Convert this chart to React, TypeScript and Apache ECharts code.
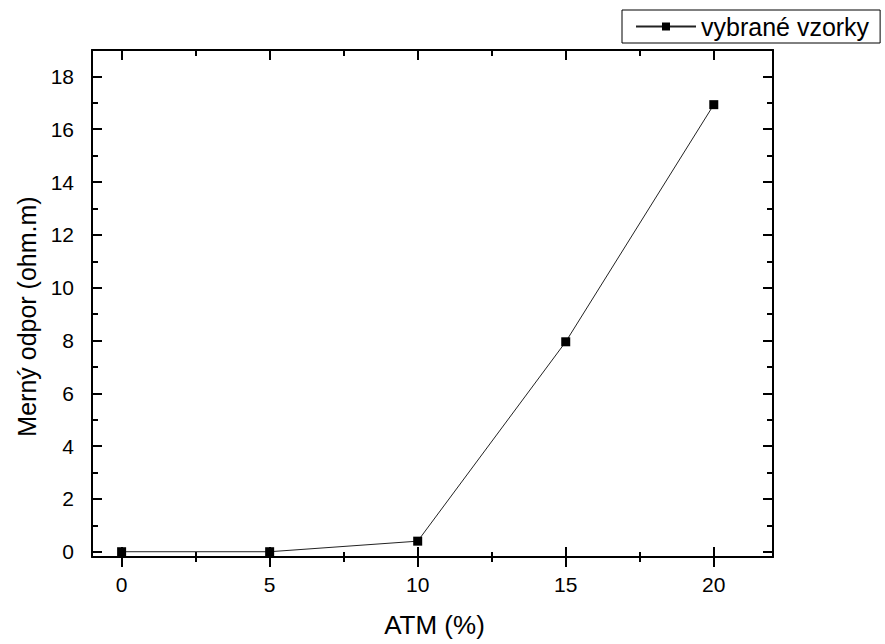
import React, { useEffect, useRef } from "react";
import * as echarts from "echarts";

const categories = [0, 5, 10, 15, 20];
const seriesValues = [0, 0, 0.4, 7.95, 16.93];
const seriesName = "vybrané vzorky";
const xMajorTicks = [0, 5, 10, 15, 20];
const xMinorTicks = [2.5, 7.5, 12.5, 17.5];
const yMajorTicks = [0, 2, 4, 6, 8, 10, 12, 14, 16, 18];
const yMinorTicks = [1, 3, 5, 7, 9, 11, 13, 15, 17];
const xTitle = "ATM (%)";
const yTitle = "Merný odpor (ohm.m)";

const FONT = "'Liberation Sans', Arial, sans-serif";
const X_MIN = -1;
const X_MAX = 22;
const Y_MIN = -0.2;
const Y_MAX = 19;

export default function App() {
  const ref = useRef<HTMLDivElement>(null);
  useEffect(() => {
    if (!ref.current) return;
    const chart = echarts.init(ref.current, undefined, { renderer: "svg" });
    const gridRect = { left: 92, right: 112, top: 50, bottom: 87, containLabel: false };
    const line = { show: true, onZero: false, lineStyle: { color: "#000", width: 2 } };
    const noLine = { show: false, onZero: false };
    const tick = (vals: number[], inside: boolean, len: number) => ({
      show: true,
      inside,
      length: len,
      customValues: vals,
      lineStyle: { color: "#000", width: 2 },
    });
    const noLabel = { show: false };
    const baseX = (grid: number, position: string, extra: any) => ({
      type: "value",
      gridIndex: grid,
      position,
      min: X_MIN,
      max: X_MAX,
      splitLine: { show: false },
      axisLabel: noLabel,
      axisLine: noLine,
      ...extra,
    });
    const baseY = (grid: number, position: string, extra: any) => ({
      type: "value",
      gridIndex: grid,
      position,
      min: Y_MIN,
      max: Y_MAX,
      splitLine: { show: false },
      axisLabel: noLabel,
      axisLine: noLine,
      ...extra,
    });

    const option: any = {
      animation: false,
      backgroundColor: "#fff",
      grid: [gridRect, gridRect, gridRect, gridRect],
      legend: {
        data: [seriesName],
        left: 622,
        top: 10,
        padding: [3, 11, 3, 13],
        borderColor: "#000",
        borderWidth: 1,
        itemWidth: 60,
        itemHeight: 10,
        textStyle: { fontFamily: FONT, fontSize: 25, color: "#000", lineHeight: 27 },
      },
      xAxis: [
        baseX(0, "bottom", {
          axisLine: line,
          axisTick: tick(xMajorTicks, false, 10),
          axisLabel: {
            show: true,
            customValues: xMajorTicks,
            margin: 17,
            fontFamily: FONT,
            fontSize: 21,
            color: "#000",
          },
          name: xTitle,
          nameLocation: "middle",
          nameGap: 55,
          nameTextStyle: { fontFamily: FONT, fontSize: 26, color: "#000", padding: [0, 0, 0, 4] },
        }),
        baseX(0, "top", { axisLine: line, axisTick: tick(xMajorTicks, true, 10) }),
        baseX(1, "bottom", { axisTick: tick(xMajorTicks, true, 10) }),
        baseX(1, "top", { axisTick: tick(xMinorTicks, true, 6) }),
        baseX(2, "bottom", { axisTick: tick(xMinorTicks, false, 5) }),
        baseX(3, "bottom", { axisTick: tick(xMinorTicks, true, 5) }),
      ],
      yAxis: [
        baseY(0, "left", {
          axisLine: line,
          axisTick: tick(yMajorTicks, true, 10),
          axisLabel: {
            show: true,
            customValues: yMajorTicks,
            margin: 18,
            fontFamily: FONT,
            fontSize: 21,
            color: "#000",
          },
          name: yTitle,
          nameLocation: "middle",
          nameGap: 53,
          nameRotate: 90,
          nameTextStyle: { fontFamily: FONT, fontSize: 25, color: "#000", padding: [0, 26, 0, 0] },
        }),
        baseY(0, "right", { axisLine: line, axisTick: tick(yMajorTicks, true, 10) }),
        baseY(1, "left", { axisTick: tick(yMinorTicks, true, 6) }),
        baseY(1, "right", { axisTick: tick(yMinorTicks, true, 6) }),
        baseY(2, "left", { show: false }),
        baseY(3, "left", { show: false }),
      ],
      series: [
        {
          name: seriesName,
          type: "line",
          xAxisIndex: 0,
          yAxisIndex: 0,
          data: categories.map((x, i) => [x, seriesValues[i]]),
          symbol: "rect",
          symbolSize: 9,
          itemStyle: { color: "#000" },
          lineStyle: { color: "#222", width: 1 },
          z: 10,
        },
      ],
    };
    chart.setOption(option);
    return () => chart.dispose();
  }, []);
  return (
    <div
      ref={ref}
      style={{ position: "fixed", left: 0, top: 0, width: 885, height: 644, background: "#fff" }}
    />
  );
}
